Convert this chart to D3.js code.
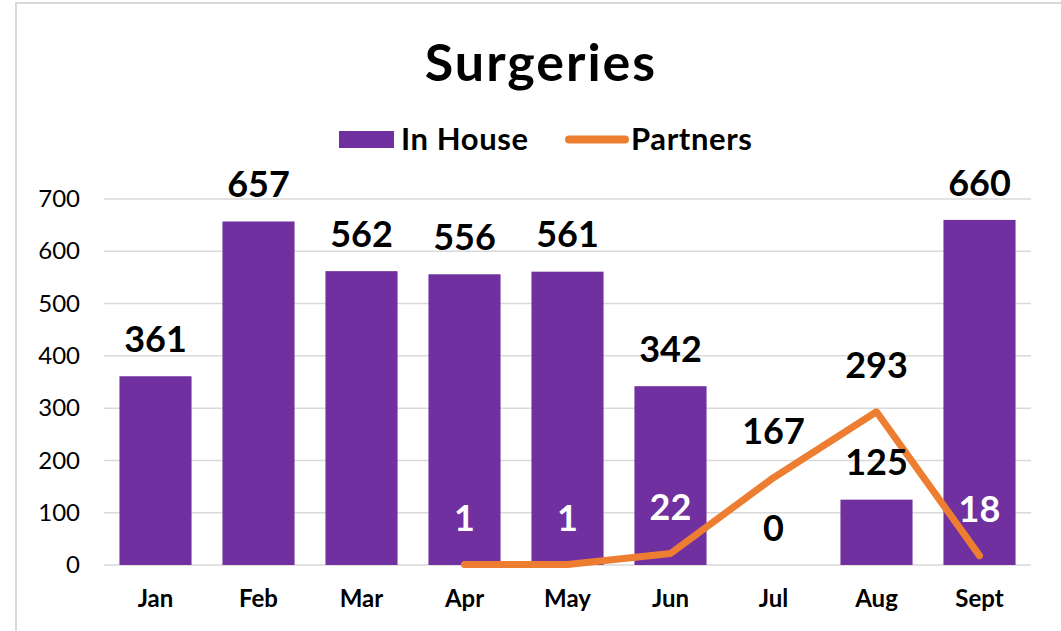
<!DOCTYPE html>
<html>
<head>
<meta charset="utf-8">
<script src="https://cdn.jsdelivr.net/npm/d3@7"></script>
<style>
  body { margin: 0; background: #fff; }
  text { font-family: "Lato", "DejaVu Sans", sans-serif; }
</style>
</head>
<body>
<div id="chart"></div>
<script>
const months = ["Jan", "Feb", "Mar", "Apr", "May", "Jun", "Jul", "Aug", "Sept"];
const inHouse = [361, 657, 562, 556, 561, 342, 0, 125, 660];
const partners = [null, null, null, 1, 1, 22, 167, 293, 18];
const yTicks = [0, 100, 200, 300, 400, 500, 600, 700];

const W = 1061, H = 631;
const margin = {top: 199, right: 30, bottom: 66, left: 104},
      width = 1031 - margin.left,
      height = 565 - margin.top;

const svg = d3.select("#chart")
    .append("svg")
    .attr("width", W)
    .attr("height", H);

// chart frame
svg.append("rect")
    .attr("x", 16).attr("y", 3)
    .attr("width", W + 10).attr("height", H + 10)
    .attr("fill", "#fff")
    .attr("stroke", "#d9d9d9")
    .attr("stroke-width", 2);

svg.append("text")
    .attr("x", 541).attr("y", 81)
    .attr("text-anchor", "middle")
    .style("font-size", "52px")
    .style("font-weight", "bold")
    .style("letter-spacing", "2px")
    .text("Surgeries");

// legend
const legend = svg.append("g");
legend.append("rect")
    .attr("x", 339).attr("y", 131)
    .attr("width", 55).attr("height", 17)
    .attr("fill", "#7030a0");
legend.append("text")
    .attr("x", 401).attr("y", 150)
    .style("font-size", "31px").style("font-weight", "bold")
    .style("letter-spacing", "0.6px")
    .text("In House");
legend.append("line")
    .attr("x1", 569).attr("x2", 625)
    .attr("y1", 139.5).attr("y2", 139.5)
    .attr("stroke", "#ed7d31")
    .attr("stroke-width", 8)
    .attr("stroke-linecap", "round");
legend.append("text")
    .attr("x", 631).attr("y", 150)
    .style("font-size", "31px").style("font-weight", "bold")
    .style("letter-spacing", "0.6px")
    .text("Partners");

const g = svg.append("g")
    .attr("transform", "translate(" + margin.left + "," + margin.top + ")");

const x = d3.scaleBand()
    .domain(months)
    .range([0, width])
    .paddingInner(0.3)
    .paddingOuter(0.15);

const y = d3.scaleLinear()
    .domain([0, 700])
    .range([height, 0]);

// gridlines
g.selectAll(".grid")
    .data(yTicks)
    .enter().append("line")
    .attr("x1", 0).attr("x2", width)
    .attr("y1", d => y(d)).attr("y2", d => y(d))
    .attr("stroke", "#d9d9d9")
    .attr("stroke-width", 1.5);

// y axis
const yAxis = g.append("g")
    .call(d3.axisLeft(y).tickValues(yTicks).tickSize(0).tickPadding(24));
yAxis.select(".domain").remove();
yAxis.selectAll("text")
    .style("font-size", "24px")
    .style("font-family", "Lato, sans-serif")
    .attr("fill", "#000");

// x axis
const xAxis = g.append("g")
    .attr("transform", `translate(0,${height})`)
    .call(d3.axisBottom(x).tickSize(0).tickPadding(25));
xAxis.select(".domain").remove();
xAxis.selectAll("text")
    .style("font-size", "24px")
    .style("font-family", "Lato, sans-serif")
    .style("font-weight", "bold")
    .attr("fill", "#000");

const data = months.map((m, i) => ({month: m, inHouse: inHouse[i], partners: partners[i]}));

// bars
g.selectAll(".bar")
    .data(data)
    .enter().append("rect")
    .attr("x", d => x(d.month))
    .attr("y", d => y(d.inHouse))
    .attr("width", x.bandwidth())
    .attr("height", d => height - y(d.inHouse))
    .attr("fill", "#7030a0");

// line
const line = d3.line()
    .defined(d => d.partners !== null)
    .x(d => x(d.month) + x.bandwidth() / 2)
    .y(d => y(d.partners));

g.append("path")
    .datum(data)
    .attr("d", line)
    .attr("fill", "none")
    .attr("stroke", "#ed7d31")
    .attr("stroke-width", 7)
    .attr("stroke-linecap", "round")
    .attr("stroke-linejoin", "round");

// bar labels
g.selectAll(".barLabel")
    .data(data)
    .enter().append("text")
    .attr("x", d => x(d.month) + x.bandwidth() / 2)
    .attr("y", d => y(d.inHouse) - 37)
    .attr("dy", "0.35em")
    .attr("text-anchor", "middle")
    .style("font-size", "36px")
    .style("font-weight", "bold")
    .attr("fill", "#000")
    .text(d => d.inHouse);

// line labels
g.selectAll(".lineLabel")
    .data(data.filter(d => d.partners !== null))
    .enter().append("text")
    .attr("x", d => x(d.month) + x.bandwidth() / 2)
    .attr("y", d => y(d.partners) - 46)
    .attr("dy", "0.35em")
    .attr("text-anchor", "middle")
    .style("font-size", "36px")
    .style("font-weight", "bold")
    .attr("fill", d => (y(d.partners) - 46 > y(d.inHouse)) ? "#fff" : "#000")
    .text(d => d.partners);
</script>
</body>
</html>
